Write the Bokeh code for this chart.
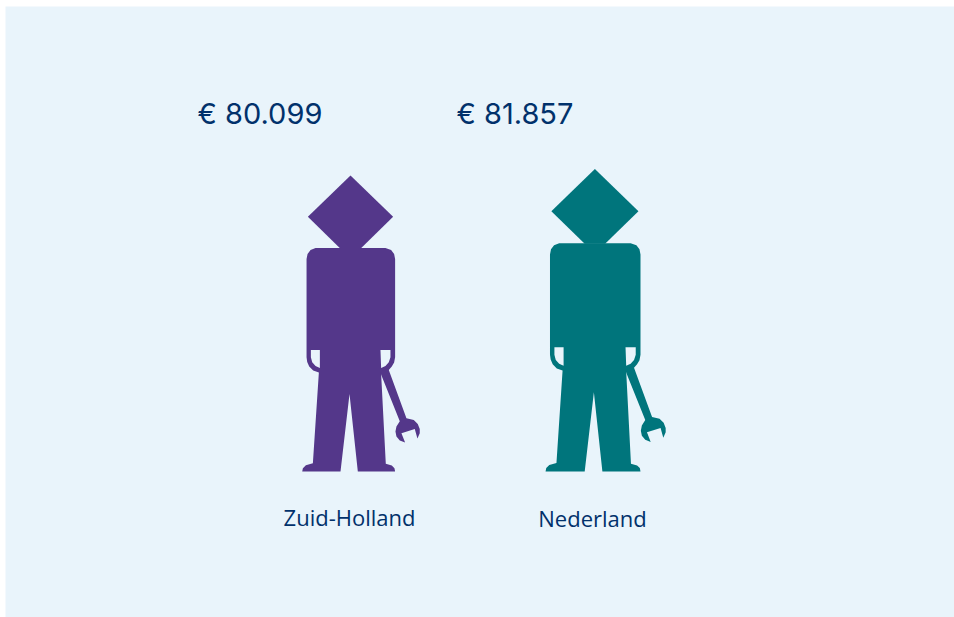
from bokeh.plotting import figure
from bokeh.models import ColumnDataSource, Range1d
from bokeh.embed import file_html
from bokeh.resources import INLINE
from bokeh.core.properties import value as fixed
import numpy as np

# data
regions = ["Zuid-Holland", "Nederland"]
incomes = [80099, 81857]
income_labels = ["€ 80.099", "€ 81.857"]
colors = ["#54378a", "#00757c"]

# figure geometry (page pixels)
W, H = 949, 611
LEFT, TOP = 5, 6
BASE_PX = 471
EUR_PER_PX = 80099 / 296.0
centers_px = [350, 594.4]
value_labels_px = [197, 456]
name_labels_px = [349, 592]
value_label_y_px = [113, 113]
name_label_y_px = [516, 517]
FONT = "Open Sans"
VALUE_FONT = "Inter"

def X(px):
    return (px - LEFT) * EUR_PER_PX

def Y(py):
    return (BASE_PX - py) * EUR_PER_PX

# pictogram outline, as traced in a 3x crop of the figure (origin at its foot centre)
OX, OY, TRACE_H = 210.0, 933.0, 889.0
head = [(210, 44), (338, 168), (240, 264), (180, 264), (82, 168)]
body = [(105, 262), (315, 262), (332, 268), (341, 280), (344, 295), (344, 590), (341, 606), (334, 618),
        (325, 628), (302, 640), (316, 910), (334, 915), (342, 923), (344, 933), (232, 933), (207, 700),
        (180, 933), (65, 933), (67, 923), (76, 914), (97, 908), (115, 636), (98, 630), (86, 618), (80, 604), (78, 590),
        (78, 295), (81, 280), (90, 268)]
gap_left = [(91, 568), (118, 568), (118, 622), (105, 616), (95, 605), (91, 590)]
gap_right = [(300, 568), (330, 568), (330, 590), (325, 605), (315, 616), (302, 622)]
wrench = [(300, 636), (318, 624), (325, 628), (378, 773), (400, 778), (412, 790), (418, 805), (418, 818), (411, 834),
          (403, 805), (363, 818), (374, 846), (358, 840), (348, 828), (345, 813), (348, 798), (358, 782), (303, 645)]


def shape(points, cx, income):
    pts = np.array(points, dtype=float)
    scale = income / TRACE_H
    xs = X(cx) + (pts[:, 0] - OX) * scale
    ys = (OY - pts[:, 1]) * scale
    return xs.tolist(), ys.tolist()


p = figure(width=W, height=H, output_backend="svg", toolbar_location=None,
           x_range=Range1d(X(LEFT), X(LEFT + W)), y_range=Range1d(Y(TOP + H), Y(TOP)),
           min_border=0, margin=(6, 0, 0, 5),
           background_fill_color="#e9f4fb", border_fill_color="#e9f4fb", outline_line_color=None)
p.axis.visible = False
p.grid.visible = False

for cx, income, color in zip(centers_px, incomes, colors):
    hx, hy = shape(head, cx, income)
    bx, by = shape(body, cx, income)
    lx, ly = shape(gap_left, cx, income)
    rx, ry = shape(gap_right, cx, income)
    wx, wy = shape(wrench, cx, income)
    src = ColumnDataSource(dict(
        xs=[[[hx]], [[bx, lx, rx]], [[wx]]],
        ys=[[[hy]], [[by, ly, ry]], [[wy]]],
    ))
    p.multi_polygons(xs="xs", ys="ys", source=src, fill_color=color, line_color=None)

p.text(x=[X(v) for v in value_labels_px], y=[Y(v) for v in value_label_y_px], text=income_labels,
       text_font=fixed(VALUE_FONT), text_font_size="29px", text_color="#01316b",
       text_align="left", text_baseline="alphabetic")
p.text(x=[X(v) for v in name_labels_px], y=[Y(v) for v in name_label_y_px], text=regions,
       text_font=fixed(FONT), text_font_size="22px", text_color="#01316b",
       text_align="center", text_baseline="alphabetic")

open("out.html", "w").write(file_html(p, INLINE))
